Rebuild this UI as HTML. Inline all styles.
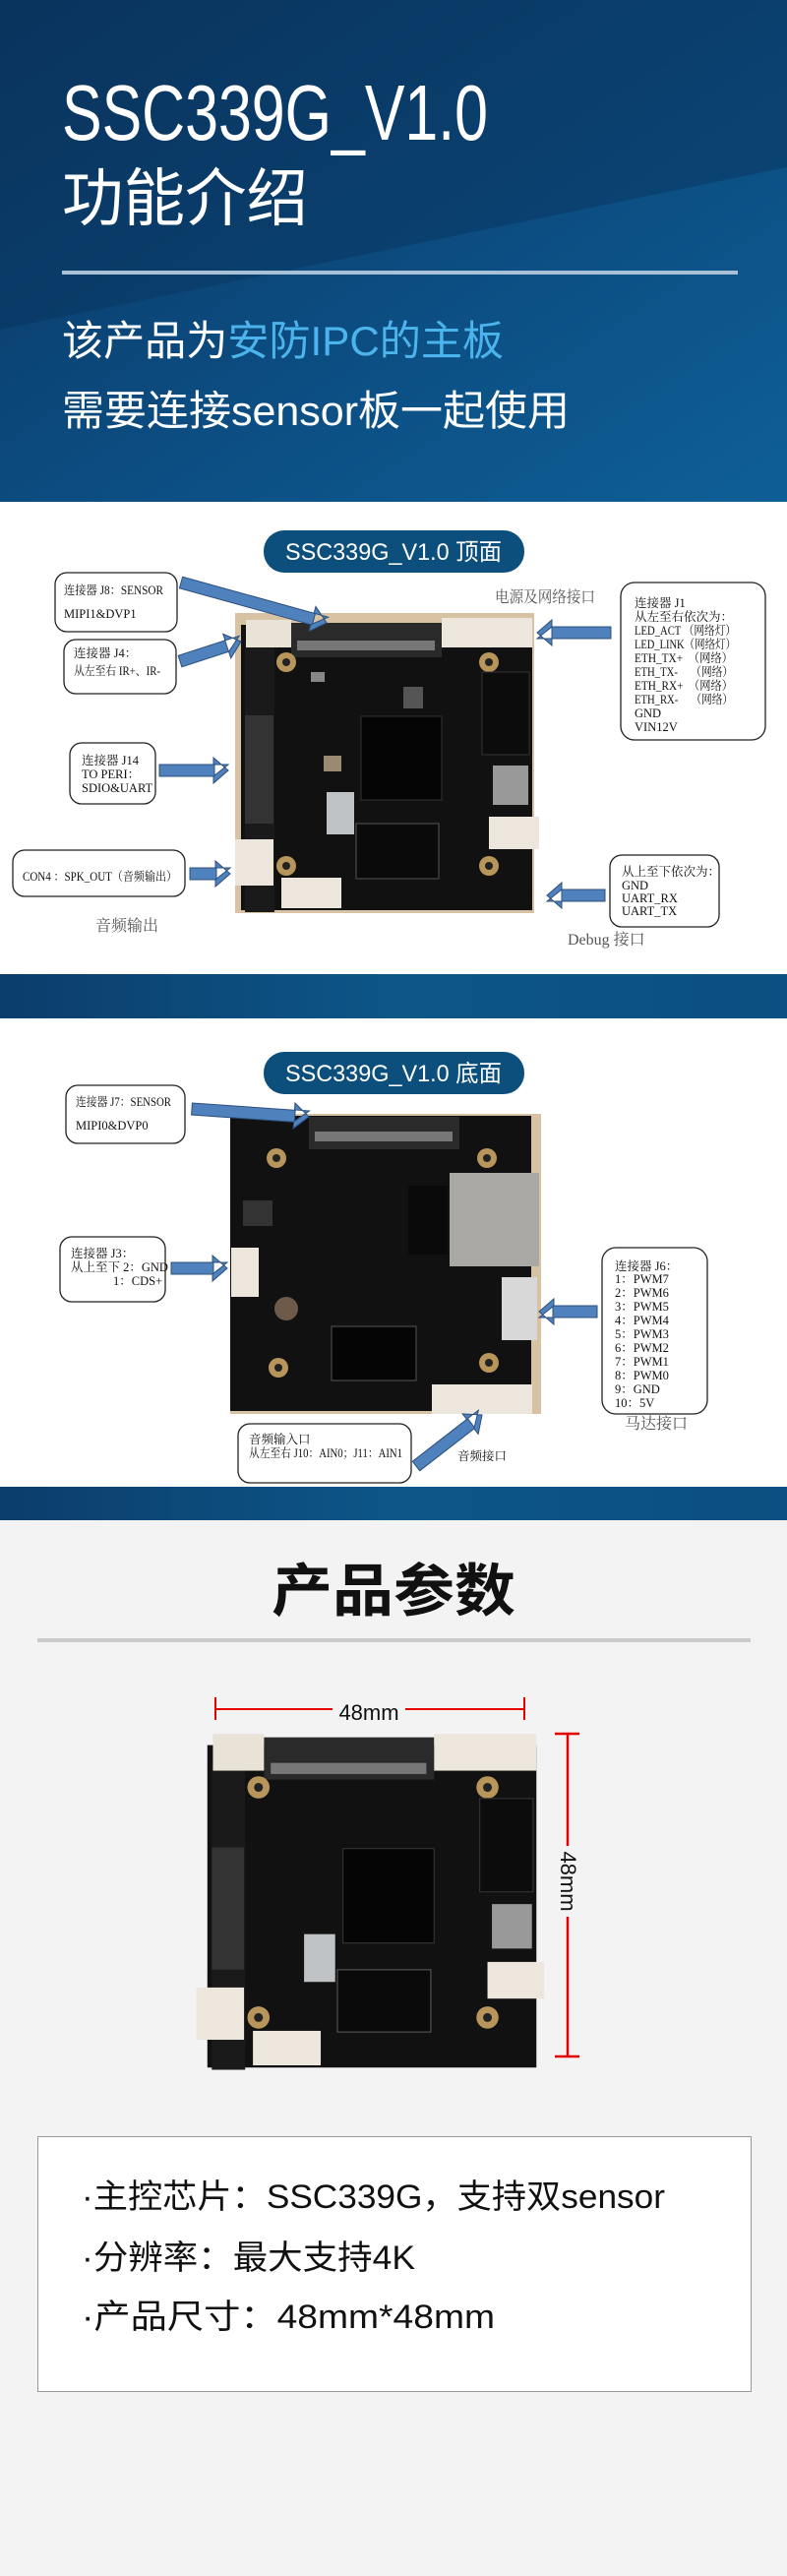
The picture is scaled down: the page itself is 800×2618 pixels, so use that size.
<!DOCTYPE html>
<html><head><meta charset="utf-8"><style>
html,body{margin:0;padding:0;background:#f3f3f3;}
svg{display:block}
.s{font-family:"Liberation Serif","Noto Serif CJK SC",serif;font-size:12.5px;fill:#111}
.l{font-family:"Liberation Serif","Noto Serif CJK SC",serif;font-size:16px;fill:#555}
.h{font-family:"Liberation Sans","Noto Sans CJK SC",sans-serif}
</style></head><body>
<svg width="800" height="2618" viewBox="0 0 800 2618" xmlns="http://www.w3.org/2000/svg">
<defs>
<linearGradient id="hg" x1="0" y1="0" x2="1" y2="1">
<stop offset="0" stop-color="#0a3460"/><stop offset="0.6" stop-color="#0c4f84"/><stop offset="1" stop-color="#0e5f96"/>
</linearGradient>
<linearGradient id="bg" x1="0" y1="0" x2="1" y2="0">
<stop offset="0" stop-color="#0b3d6b"/><stop offset="0.5" stop-color="#0d5688"/><stop offset="1" stop-color="#0c4f82"/>
</linearGradient>
<g id="board1">
<rect x="0" y="0" width="304" height="305" fill="#d8c2a4"/>
<rect x="6" y="12" width="296" height="290" fill="#111"/>
<rect x="10" y="30" width="30" height="274" fill="#1a1a1a"/>
<rect x="11" y="7" width="46" height="28" fill="#e9e2d6"/>
<rect x="57" y="10" width="153" height="35" fill="#2a2a2a"/>
<rect x="63" y="28" width="140" height="10" fill="#777"/>
<rect x="210" y="5" width="92" height="30" fill="#ece6dc"/>
<circle cx="52" cy="50" r="10" fill="#b8955a"/><circle cx="52" cy="50" r="4" fill="#222"/>
<circle cx="258" cy="50" r="10" fill="#b8955a"/><circle cx="258" cy="50" r="4" fill="#222"/>
<circle cx="52" cy="257" r="10" fill="#b8955a"/><circle cx="52" cy="257" r="4" fill="#222"/>
<circle cx="258" cy="257" r="10" fill="#b8955a"/><circle cx="258" cy="257" r="4" fill="#222"/>
<rect x="128" y="105" width="82" height="85" fill="#050505" stroke="#333"/>
<rect x="123" y="214" width="84" height="56" fill="#0a0a0a" stroke="#555"/>
<rect x="251" y="60" width="48" height="84" fill="#0c0c0c" stroke="#333"/>
<rect x="93" y="182" width="28" height="43" fill="#bfc3c6"/>
<rect x="10" y="104" width="29" height="110" fill="#333"/>
<rect x="258" y="207" width="51" height="33" fill="#ece6dc"/>
<rect x="262" y="155" width="36" height="40" fill="#999"/>
<rect x="0" y="230" width="39" height="47" fill="#ece6dc"/>
<rect x="47" y="269" width="61" height="31" fill="#ece6dc"/>
<rect x="77" y="60" width="14" height="10" fill="#888"/>
<rect x="90" y="145" width="18" height="16" fill="#9b8a72"/>
<rect x="171" y="75" width="20" height="22" fill="#555"/>
</g>
<polygon id="ar" points="0,-6 -15,-6 -15,-13 0,0 -15,13 -15,6" fill="#4f81bd" stroke="#2c4f7c" stroke-width="1"/>
</defs>

<!-- header -->
<rect x="0" y="0" width="800" height="510" fill="url(#hg)"/>
<polygon points="0,0 800,0 800,170 0,335" fill="#08325c" opacity="0.45"/>
<text x="63" y="142" class="h" font-size="80" fill="#fff" textLength="433" lengthAdjust="spacingAndGlyphs">SSC339G_V1.0</text>
<text x="63" y="224" class="h" font-size="64" fill="#fff" textLength="250" lengthAdjust="spacingAndGlyphs">功能介绍</text>
<rect x="63" y="275" width="687" height="4" fill="#a9c1d6"/>
<text x="63" y="361" class="h" font-size="42" fill="#fff" textLength="449" lengthAdjust="spacingAndGlyphs">该产品为<tspan fill="#4cb4ec">安防IPC的主板</tspan></text>
<text x="63" y="432" class="h" font-size="42" fill="#fff" textLength="516" lengthAdjust="spacingAndGlyphs">需要连接sensor板一起使用</text>

<!-- section top -->
<rect x="0" y="510" width="800" height="480" fill="#fff"/>
<rect x="268" y="539" width="265" height="43" rx="21" fill="#0d4f7c"/>
<text x="400" y="569" class="h" font-size="24" fill="#fff" text-anchor="middle" textLength="220" lengthAdjust="spacingAndGlyphs">SSC339G_V1.0 顶面</text>
<use href="#board1" x="239" y="623"/>
<g fill="#fff" stroke="#222" stroke-width="1.3">
<rect x="56" y="582" width="124" height="60" rx="12"/>
<rect x="65" y="650" width="114" height="55" rx="12"/>
<rect x="71" y="755" width="87" height="62" rx="12"/>
<rect x="13" y="864" width="175" height="47" rx="12"/>
<rect x="631" y="592" width="147" height="160" rx="14"/>
<rect x="620" y="869" width="111" height="73" rx="12"/>
</g>
<text class="s" x="65" y="604" textLength="101" lengthAdjust="spacingAndGlyphs">连接器 J8：SENSOR</text>
<text class="s" x="65" y="628">MIPI1&amp;DVP1</text>
<text class="s" x="75" y="668">连接器 J4：</text>
<text class="s" x="75" y="686" textLength="88" lengthAdjust="spacingAndGlyphs">从左至右 IR+、IR-</text>
<text class="s" x="83" y="777">连接器 J14</text>
<text class="s" x="83" y="791">TO PERI：</text>
<text class="s" x="83" y="805">SDIO&amp;UART</text>
<text class="s" x="23" y="895" textLength="157" lengthAdjust="spacingAndGlyphs">CON4 ：SPK_OUT（音频输出）</text>
<text class="s" x="645" y="617">连接器 J1</text>
<text class="s" x="645" y="631">从左至右依次为：</text>
<text class="s" x="645" y="645" textLength="103" lengthAdjust="spacingAndGlyphs">LED_ACT （网络灯）</text>
<text class="s" x="645" y="659" textLength="103" lengthAdjust="spacingAndGlyphs">LED_LINK（网络灯）</text>
<text class="s" x="645" y="673" textLength="100" lengthAdjust="spacingAndGlyphs">ETH_TX+　（网络）</text>
<text class="s" x="645" y="687" textLength="100" lengthAdjust="spacingAndGlyphs">ETH_TX-　 （网络）</text>
<text class="s" x="645" y="701" textLength="100" lengthAdjust="spacingAndGlyphs">ETH_RX+　（网络）</text>
<text class="s" x="645" y="715" textLength="100" lengthAdjust="spacingAndGlyphs">ETH_RX-　 （网络）</text>
<text class="s" x="645" y="729">GND</text>
<text class="s" x="645" y="743">VIN12V</text>
<text class="s" x="632" y="890">从上至下依次为：</text>
<text class="s" x="632" y="904">GND</text>
<text class="s" x="632" y="917">UART_RX</text>
<text class="s" x="632" y="930">UART_TX</text>
<text class="l" x="97" y="946">音频输出</text>
<text class="l" x="503" y="612" textLength="102" lengthAdjust="spacingAndGlyphs">电源及网络接口</text>
<text class="l" x="577" y="960" fill="#333">Debug 接口</text>
<rect x="0" y="-6" width="140" height="12" fill="#4f81bd" stroke="#2c4f7c" transform="translate(184,592) rotate(15.5)"/>
<use href="#ar" transform="translate(332,633) rotate(15.5)"/>
<g fill="#4f81bd" stroke="#2c4f7c">
<rect x="0" y="-6" width="50" height="12" transform="translate(183,672) rotate(-17.9)"/>
<rect x="162" y="777" width="56" height="12"/>
<rect x="193" y="882" width="27" height="12"/>
<rect x="561" y="637" width="60" height="12"/>
<rect x="571" y="904" width="44" height="12"/>
</g>
<use href="#ar" transform="translate(245,652) rotate(-17.9)"/>
<use href="#ar" transform="translate(232,783)"/>
<use href="#ar" transform="translate(234,888)"/>
<use href="#ar" transform="translate(546,643) rotate(180)"/>
<use href="#ar" transform="translate(556,910) rotate(180)"/>

<!-- band 1 -->
<rect x="0" y="990" width="800" height="45" fill="url(#bg)"/>

<!-- section bottom -->
<rect x="0" y="1035" width="800" height="476" fill="#fff"/>
<rect x="268" y="1069" width="265" height="43" rx="21" fill="#0d4f7c"/>
<text x="400" y="1099" class="h" font-size="24" fill="#fff" text-anchor="middle" textLength="220" lengthAdjust="spacingAndGlyphs">SSC339G_V1.0 底面</text>
<rect x="234" y="1132" width="316" height="305" fill="#d8c2a4"/>
<rect x="234" y="1134" width="306" height="300" fill="#111"/>
<rect x="314" y="1135" width="153" height="33" fill="#2a2a2a"/>
<rect x="320" y="1150" width="140" height="10" fill="#777"/>
<rect x="457" y="1192" width="91" height="95" fill="#a9a8a4"/>
<rect x="415" y="1205" width="40" height="70" fill="#0a0a0a"/>
<circle cx="281" cy="1177" r="10" fill="#b8955a"/><circle cx="281" cy="1177" r="4" fill="#222"/>
<circle cx="495" cy="1177" r="10" fill="#b8955a"/><circle cx="495" cy="1177" r="4" fill="#222"/>
<circle cx="283" cy="1390" r="10" fill="#b8955a"/><circle cx="283" cy="1390" r="4" fill="#222"/>
<circle cx="497" cy="1385" r="10" fill="#b8955a"/><circle cx="497" cy="1385" r="4" fill="#222"/>
<circle cx="291" cy="1330" r="12" fill="#6e5a4a"/>
<rect x="337" y="1348" width="86" height="55" fill="#050505" stroke="#555"/>
<rect x="235" y="1268" width="28" height="50" fill="#ece6dc"/>
<rect x="439" y="1407" width="102" height="30" fill="#ece6dc"/>
<rect x="510" y="1298" width="36" height="64" fill="#d8d8d8"/>
<rect x="247" y="1220" width="30" height="26" fill="#333"/>
<g fill="#fff" stroke="#222" stroke-width="1.3">
<rect x="67" y="1103" width="121" height="59" rx="12"/>
<rect x="61" y="1257" width="107" height="66" rx="12"/>
<rect x="612" y="1268" width="107" height="169" rx="14"/>
<rect x="242" y="1447" width="176" height="60" rx="12"/>
</g>
<text class="s" x="77" y="1124" textLength="97" lengthAdjust="spacingAndGlyphs">连接器 J7：SENSOR</text>
<text class="s" x="77" y="1148">MIPI0&amp;DVP0</text>
<text class="s" x="72" y="1278">连接器 J3：</text>
<text class="s" x="72" y="1292">从上至下 2：GND</text>
<text class="s" x="115" y="1306">1：CDS+</text>
<text class="s" x="625" y="1291">连接器 J6：</text>
<text class="s" x="625" y="1304">1：PWM7</text>
<text class="s" x="625" y="1318">2：PWM6</text>
<text class="s" x="625" y="1332">3：PWM5</text>
<text class="s" x="625" y="1346">4：PWM4</text>
<text class="s" x="625" y="1360">5：PWM3</text>
<text class="s" x="625" y="1374">6：PWM2</text>
<text class="s" x="625" y="1388">7：PWM1</text>
<text class="s" x="625" y="1402">8：PWM0</text>
<text class="s" x="625" y="1416">9：GND</text>
<text class="s" x="625" y="1430">10：5V</text>
<text class="l" x="635" y="1452" fill="#777">马达接口</text>
<text class="s" x="253" y="1467">音频输入口</text>
<text class="s" x="253" y="1481" textLength="156" lengthAdjust="spacingAndGlyphs">从左至右 J10：AIN0；J11：AIN1</text>
<text class="s" x="465" y="1484">音频接口</text>
<g fill="#4f81bd" stroke="#2c4f7c">
<rect x="0" y="-6" width="105" height="12" transform="translate(195,1127) rotate(4)"/>
<rect x="174" y="1283" width="43" height="12"/>
<rect x="562" y="1327" width="45" height="12"/>
<rect x="0" y="-6" width="71" height="12" transform="translate(423,1490) rotate(-37.8)"/>
</g>
<use href="#ar" transform="translate(314,1135) rotate(4)"/>
<use href="#ar" transform="translate(231,1289)"/>
<use href="#ar" transform="translate(548,1333) rotate(180)"/>
<use href="#ar" transform="translate(490,1438) rotate(-37.8)"/>

<!-- band 2 -->
<rect x="0" y="1511" width="800" height="34" fill="url(#bg)"/>

<!-- params -->
<text x="400" y="1637" class="h" font-size="58" font-weight="bold" fill="#111" text-anchor="middle" textLength="248" lengthAdjust="spacingAndGlyphs">产品参数</text>
<rect x="38" y="1665" width="725" height="4" fill="#cacaca"/>
<g stroke="#e60000" stroke-width="2">
<line x1="219" y1="1725" x2="219" y2="1748"/><line x1="533" y1="1725" x2="533" y2="1748"/>
<line x1="219" y1="1737" x2="338" y2="1737"/><line x1="412" y1="1737" x2="533" y2="1737"/>
</g>
<g stroke="#e60000" stroke-width="2.5">
<line x1="564" y1="1762" x2="589" y2="1762"/><line x1="564" y1="2090" x2="589" y2="2090"/>
<line x1="577" y1="1762" x2="577" y2="1876"/><line x1="577" y1="1948" x2="577" y2="2090"/>
</g>
<text x="375" y="1748" class="h" font-size="22" fill="#111" text-anchor="middle">48mm</text>
<text transform="translate(570,1912) rotate(90)" class="h" font-size="22" fill="#111" text-anchor="middle">48mm</text>
<g transform="translate(204,1760) scale(1.13)">
<rect x="6" y="12" width="296" height="290" fill="#111"/>
<rect x="10" y="30" width="30" height="274" fill="#1a1a1a"/>
<rect x="11" y="2" width="46" height="33" fill="#e9e2d6"/>
<rect x="57" y="5" width="153" height="38" fill="#2a2a2a"/>
<rect x="63" y="28" width="140" height="10" fill="#777"/>
<rect x="210" y="2" width="92" height="33" fill="#ece6dc"/>
<circle cx="52" cy="50" r="10" fill="#b8955a"/><circle cx="52" cy="50" r="4" fill="#222"/>
<circle cx="258" cy="50" r="10" fill="#b8955a"/><circle cx="258" cy="50" r="4" fill="#222"/>
<circle cx="52" cy="257" r="10" fill="#b8955a"/><circle cx="52" cy="257" r="4" fill="#222"/>
<circle cx="258" cy="257" r="10" fill="#b8955a"/><circle cx="258" cy="257" r="4" fill="#222"/>
<rect x="128" y="105" width="82" height="85" fill="#050505" stroke="#333"/>
<rect x="123" y="214" width="84" height="56" fill="#0a0a0a" stroke="#555"/>
<rect x="251" y="60" width="48" height="84" fill="#0c0c0c" stroke="#333"/>
<rect x="93" y="182" width="28" height="43" fill="#bfc3c6"/>
<rect x="10" y="104" width="29" height="110" fill="#333"/>
<rect x="258" y="207" width="51" height="33" fill="#ece6dc"/>
<rect x="262" y="155" width="36" height="40" fill="#999"/>
<rect x="-4" y="230" width="43" height="47" fill="#ece6dc"/>
<rect x="47" y="269" width="61" height="31" fill="#ece6dc"/>
</g>

<!-- spec box -->
<rect x="38.5" y="2171.5" width="725" height="259" fill="#fff" stroke="#999" stroke-width="1"/>
<g class="h" font-size="34" fill="#111">
<text x="83" y="2244" textLength="593" lengthAdjust="spacingAndGlyphs">·主控芯片：SSC339G，支持双sensor</text>
<text x="83" y="2306" textLength="339" lengthAdjust="spacingAndGlyphs">·分辨率：最大支持4K</text>
<text x="83" y="2366" textLength="420" lengthAdjust="spacingAndGlyphs">·产品尺寸：48mm*48mm</text>
</g>
</svg>
</body></html>
